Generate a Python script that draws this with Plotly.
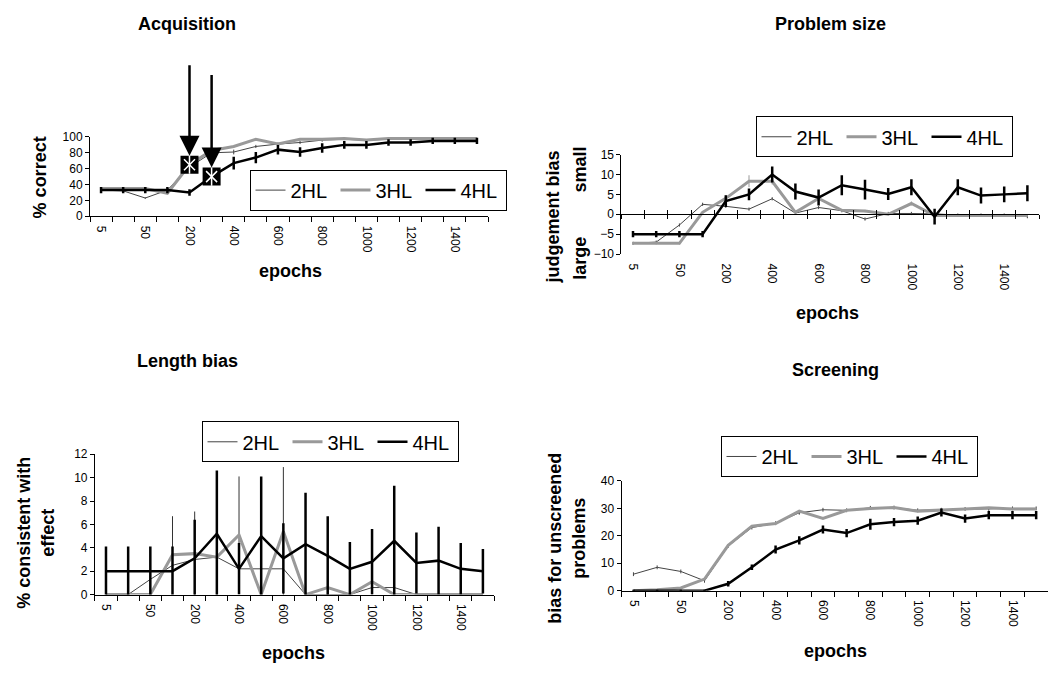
import plotly.graph_objects as go

W, H = 1048, 675

categories = ["5", "10", "50", "100", "200", "300", "400", "500", "600", "700",
              "800", "900", "1000", "1100", "1200", "1300", "1400", "1500"]
series_names = ["2HL", "3HL", "4HL"]

# Acquisition (% correct)
acq_2hl = [33, 32, 23, 33, 62, 80, 81, 88, 91, 93, 96, 97, 96, 97, 97, 97, 97, 97]
acq_3hl = [35, 35, 35, 29, 65, 83, 88, 97, 91, 97, 97, 98, 96, 98, 98, 98, 98, 98]
acq_4hl = [33, 33, 33, 33, 30, 50, 67, 74, 84, 81, 86, 90, 90, 93, 93, 95, 95, 95]
acq_2hl_err = [1, 1, 1, 2, 2, 3, 3, 2, 2, 2, 2, 1, 1, 1, 1, 1, 1, 1]
acq_3hl_err = [1] * 18
acq_4hl_err = [4, 4, 4, 4, 4, 5, 8, 7, 6, 6, 6, 5, 5, 4, 4, 4, 4, 4]
acq_marked = [("200", "3HL"), ("300", "4HL")]

# Problem size (judgement bias)
ps_2hl = [-7.3, -7.0, -2.7, 2.5, 2.0, 1.3, 3.9, 0.3, 1.7, 0.9, -1.2, 0.2, 0.2, 0.1, -0.2, -0.2, -0.2, -0.6]
ps_3hl = [-7.3, -7.3, -7.3, 0.5, 4.0, 8.3, 8.3, 0.5, 4.0, 1.0, 0.8, 0.0, 2.7, -0.3, -0.3, -0.3, -0.3, -0.3]
ps_4hl = [-5, -5, -5, -5, 3.3, 5.0, 10.0, 5.7, 4.2, 7.3, 6.2, 5.1, 6.8, -0.6, 6.8, 4.7, 5.0, 5.3]
ps_2hl_err = [0.4] * 18
ps_3hl_err = [0.3, 0.3, 0.3, 0.3, 0.8, 1.5, 0.8, 0.3, 1.2, 0.3, 0.3, 0.3, 0.5, 0.3, 0.3, 0.3, 0.3, 0.3]
ps_4hl_err = [0.8, 0.8, 0.8, 0.8, 1.5, 1.5, 2.0, 2.0, 2.0, 2.5, 2.5, 1.5, 2.0, 2.0, 2.0, 2.0, 2.0, 2.0]

# Length bias (% consistent with effect)
lb_2hl = [0, 0, 1.3, 2.5, 3.0, 3.2, 2.2, 2.2, 2.2, 0, 0, 0, 0.6, 0.6, 0, 0, 0, 0]
lb_3hl = [0, 0, 0, 3.4, 3.5, 3.2, 5.1, 0, 5.4, 0, 0.6, 0, 1.1, 0, 0, 0, 0, 0]
lb_4hl = [2, 2, 2, 2, 3.1, 5.2, 2.2, 5.0, 3.1, 4.3, 3.3, 2.2, 2.8, 4.6, 2.7, 2.9, 2.2, 2.0]
lb_2hl_err = [0] * 18
lb_3hl_err = [0, 0, 0, 3.3, 3.6, 3.2, 5.0, 0, 5.5, 0, 0.6, 0, 1.1, 0, 0, 0, 0, 0]
lb_4hl_err = [2.1, 2.1, 2.1, 2.1, 3.3, 5.4, 2.2, 5.1, 3.0, 4.4, 3.4, 2.3, 2.8, 4.7, 2.6, 2.9, 2.2, 1.9]

# Screening (bias for unscreened problems)
sc_2hl = [6, 8.5, 7, 3.6, 16.3, 23, 24.6, 28.4, 29.5, 29.3, 30.2, 30.3, 29.3, 29.5, 29.8, 29.8, 30, 30]
sc_3hl = [0, 0.3, 1, 4.2, 16.5, 23.5, 24.5, 29, 26.3, 29.3, 30, 30.3, 29, 29.5, 29.8, 30.2, 29.8, 29.8]
sc_4hl = [0, 0, 0, 0, 2.5, 8.5, 15, 18.3, 22.3, 21, 24.2, 25, 25.5, 28.5, 26.3, 27.5, 27.5, 27.5]
sc_2hl_err = [0.7] * 18
sc_3hl_err = [0.3] * 18
sc_4hl_err = [0.3, 0.3, 0.3, 0.3, 1.0, 1.0, 1.5, 1.5, 1.5, 1.5, 2.0, 1.5, 1.5, 1.5, 1.5, 1.5, 1.5, 1.5]

FONT = "Liberation Sans, Arial, sans-serif"
styles = {
    "2HL": dict(color="#444444", width=1, ecolor="#444444", ethick=1),
    "3HL": dict(color="#999999", width=3, ecolor="#999999", ethick=1),
    "4HL": dict(color="#000000", width=2.5, ecolor="#000000", ethick=2.5),
}

n = len(categories)
xs = list(range(n))
label_vals = xs[::2]
label_text = categories[::2]
boundaries = [i - 0.5 for i in range(n + 1)]


def px_x(p):
    return p / W


def px_y(p):
    return 1 - p / H


panels = [
    dict(key="", data=[acq_2hl, acq_3hl, acq_4hl], err=[acq_2hl_err, acq_3hl_err, acq_4hl_err],
         xd=[90, 488], yd=[132.7, 213.7], yr=[0, 100], dt=20, legend="legend",
         lg=(378, 187), ecol3="#999999"),
    dict(key="2", data=[ps_2hl, ps_3hl, ps_4hl], err=[ps_2hl_err, ps_3hl_err, ps_4hl_err],
         xd=[621.4, 1039], yd=[150.7, 252.3], yr=[-10, 15], dt=5, legend="legend2",
         lg=(884, 132.5), ecol3="#999999"),
    dict(key="3", data=[lb_2hl, lb_3hl, lb_4hl], err=[lb_2hl_err, lb_3hl_err, lb_4hl_err],
         xd=[94.9, 494], yd=[456.7, 600], yr=[0, 12], dt=2, legend="legend3",
         lg=(330, 444), ecol3="#333333"),
    dict(key="4", data=[sc_2hl, sc_3hl, sc_4hl], err=[sc_2hl_err, sc_3hl_err, sc_4hl_err],
         xd=[621.6, 1048], yd=[484, 596], yr=[0, 40], dt=10, legend="legend4",
         lg=(849, 459), ecol3="#999999"),
]

fig = go.Figure()
layout = dict(width=W, height=H, margin=dict(l=0, r=0, t=0, b=0),
              plot_bgcolor="white", paper_bgcolor="white",
              font=dict(family=FONT, size=12, color="black"), showlegend=True)

for p in panels:
    k = p["key"]
    xa, ya = "x" + k, "y" + k
    for name, vals, err in zip(series_names, p["data"], p["err"]):
        st = styles[name]
        ecol = p["ecol3"] if name == "3HL" else st["ecolor"]
        fig.add_trace(go.Scatter(
            x=xs, y=vals, name=name, mode="lines", xaxis=xa, yaxis=ya,
            line=dict(color=st["color"], width=st["width"]),
            error_y=dict(type="data", array=err, visible=True, width=0,
                         thickness=st["ethick"], color=ecol),
            legend=p["legend"], showlegend=True, hoverinfo="skip"))
    xdom = [px_x(p["xd"][0]), min(1.0, px_x(p["xd"][1]))]
    ydom = [px_y(p["yd"][1]), px_y(p["yd"][0])]
    show_bottom_line = (k != "2")
    layout["xaxis" + k] = dict(
        domain=xdom, anchor=ya, range=[-0.5, n - 0.5], showgrid=False, zeroline=False,
        showline=show_bottom_line, linecolor="black", linewidth=1,
        tickmode="array", tickvals=label_vals, ticktext=label_text, tickangle=90,
        ticks="outside", ticklen=6, tickcolor="rgba(0,0,0,0)",
        tickfont=dict(size=12, family=FONT),
        minor=dict(tickmode="array", tickvals=boundaries,
                   ticks="outside" if show_bottom_line else "", ticklen=5,
                   tickcolor="black", tickwidth=1, showgrid=False),
        fixedrange=True)
    layout["yaxis" + k] = dict(
        domain=ydom, anchor=xa, range=p["yr"], dtick=p["dt"], tick0=p["yr"][0],
        showgrid=False, zeroline=False, showline=True, linecolor="black", linewidth=1,
        ticks="outside", ticklen=4, tickcolor="black", tickfont=dict(size=12, family=FONT),
        fixedrange=True)
    layout[p["legend"]] = dict(
        orientation="h", x=px_x(p["lg"][0]), y=px_y(p["lg"][1]), xanchor="center",
        yanchor="middle", bordercolor="black", borderwidth=1, bgcolor="white",
        font=dict(size=20, family=FONT), itemclick=False, itemdoubleclick=False,
        entrywidth=40, entrywidthmode="pixels", tracegroupgap=0)

# Problem-size panel: category axis crosses at zero with cross ticks
p2 = panels[1]
ylo, yhi = p2["yr"]
d0, d1 = px_y(p2["yd"][1]), px_y(p2["yd"][0])
zero_pos = d0 + (0 - ylo) / (yhi - ylo) * (d1 - d0)
for ax_name, tdir in (("xaxis5", "outside"), ("xaxis6", "inside")):
    layout[ax_name] = dict(
        overlaying="x2", anchor="free", position=zero_pos, side="bottom",
        range=[-0.5, n - 0.5], showgrid=False, zeroline=False, showline=True,
        linecolor="black", linewidth=1, tickmode="array", tickvals=boundaries,
        ticks=tdir, ticklen=4, tickcolor="black", showticklabels=False, fixedrange=True)
    fig.add_trace(go.Scatter(x=[], y=[], xaxis="x" + ax_name[5:], yaxis="y2",
                             showlegend=False, hoverinfo="skip"))

# Acquisition: highlighted points with arrows
series_map = {"2HL": acq_2hl, "3HL": acq_3hl, "4HL": acq_4hl}
mx = [categories.index(c) for c, s in acq_marked]
my = [series_map[s][categories.index(c)] for c, s in acq_marked]
fig.add_trace(go.Scatter(x=mx, y=my, mode="markers", xaxis="x", yaxis="y", showlegend=False,
                         marker=dict(symbol="square", size=18, color="black",
                                     line=dict(color="black", width=0)), hoverinfo="skip"))
fig.add_trace(go.Scatter(x=mx, y=my, mode="markers", xaxis="x", yaxis="y", showlegend=False,
                         marker=dict(symbol="x-thin-open", size=11, color="white",
                                     line=dict(color="white", width=1.5)), hoverinfo="skip"))
fig.add_trace(go.Scatter(x=mx, y=my, mode="markers", xaxis="x", yaxis="y", showlegend=False,
                         marker=dict(symbol="line-ns-open", size=13, color="white",
                                     line=dict(color="white", width=1.5)), hoverinfo="skip"))

annotations = []
for (xv, yv, ay) in zip(mx, my, [-101, -103]):
    annotations.append(dict(
        x=xv, y=yv, xref="x", yref="y", ax=0, ay=ay, axref="pixel", ayref="pixel",
        showarrow=True, arrowhead=2, arrowsize=1.6, arrowwidth=2.5, arrowcolor="black",
        standoff=9, text=""))


def txt(text, x, y, size=18, angle=0, bold=True):
    annotations.append(dict(
        text=("<b>%s</b>" % text) if bold else text, x=px_x(x), y=px_y(y),
        xref="paper", yref="paper", showarrow=False, textangle=angle,
        xanchor="center", yanchor="middle", font=dict(size=size, family=FONT, color="black")))


txt("Acquisition", 187, 17, size=18)
txt("Problem size", 830, 17, size=18)
txt("Length bias", 187, 362, size=18)
txt("Screening", 835, 371, size=18)

txt("epochs", 290, 270)
txt("epochs", 827, 312)
txt("epochs", 293, 660)
txt("epochs", 835, 658)

txt("% correct", 40, 174, angle=-90)
txt("judgement bias", 553, 215, angle=-90)
txt("large", 580, 257, angle=-90)
txt("small", 580, 166, angle=-90)
txt("% consistent with<br>effect", 36, 537, angle=-90)
txt("bias for unscreened<br>problems", 567, 543, angle=-90)

layout["annotations"] = annotations
fig.update_layout(**layout)
fig.write_html("out.html", config={"displayModeBar": False, "staticPlot": False},
               post_script="document.body.style.margin='0';document.body.style.padding='0';")
